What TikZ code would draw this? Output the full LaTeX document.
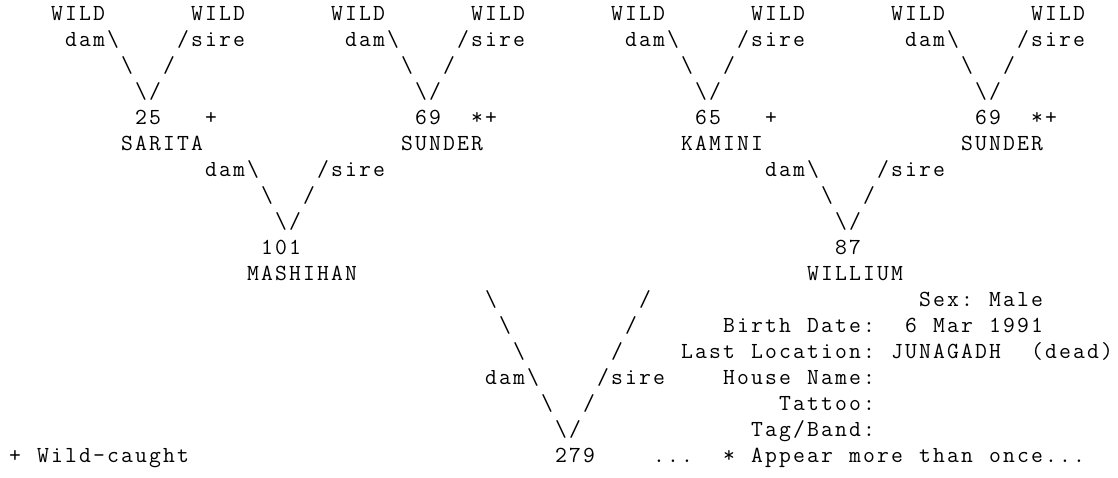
\documentclass[tikz,border=0pt]{standalone}
\usepackage{tikz}

% one character per fixed-width cell, so every column sits on the grid
\newlength\cellw
\setlength\cellw{7pt}
\newcommand\gridend{GRIDEND}
\def\gridloop#1{\ifx#1\gridend\else\makebox[\cellw]{#1}\expandafter\gridloop\fi}
\newcommand\grid[1]{\gridloop#1\gridend}
\newcommand\gridx[1]{\expandafter\grid\expandafter{#1}}
\newcommand\bsl{\textbackslash}

\begin{document}
\begin{tikzpicture}[
    x=7pt, y=-13pt,
    txt/.style={anchor=base west,inner sep=0pt,outer sep=0pt,
        font=\ttfamily\fontsize{11.5pt}{13pt}\selectfont},
    txtr/.style={txt,anchor=base east}
]
\useasboundingbox (-0.5714,0.2308) rectangle (79.2857,18.5769);

% grandparents: wild parents over each one
\foreach \k/\num/\flag/\nm in {9/25/+/SARITA,29/69/*+/SUNDER,49/65/+/KAMINI,69/69/*+/SUNDER}{
    \node[txt] (wdam\k) at (\k-6,1) {\grid{WILD}};
    \node[txt] (wsire\k) at (\k+4,1) {\grid{WILD}};
    \node[txt] (dam\k) at (\k-5,2) {\grid{dam}};
    \node[txt] (sire\k) at (\k+4,2) {\grid{sire}};
    \foreach \i in {0,1,2}{
        \node[txt] (bs\k\i) at (\k-2+\i,2+\i) {\grid{\bsl}};
        \node[txt] (fs\k\i) at (\k+3-\i,2+\i) {\grid{/}};
    }
    \node[txt] (id\k) at (\k,5) {\gridx{\num}};
    \node[txtr] (flag\k) at (\k+6,5) {\gridx{\flag}};
    \node[txt] (name\k) at (\k-1,6) {\gridx{\nm}};
}

% parents
\foreach \K/\num/\nm in {19/101/MASHIHAN,59/87/WILLIUM}{
    \node[txt] (dam\K) at (\K-5,7) {\grid{dam}};
    \node[txt] (sire\K) at (\K+4,7) {\grid{sire}};
    \foreach \i in {0,1,2}{
        \node[txt] (bs\K\i) at (\K-2+\i,7+\i) {\grid{\bsl}};
        \node[txt] (fs\K\i) at (\K+3-\i,7+\i) {\grid{/}};
    }
    \node[txtr] (id\K) at (\K+2,10) {\gridx{\num}};
    \node[txt] (name\K) at (\K-2,11) {\gridx{\nm}};
}

% focal animal
\foreach \i in {0,...,5}{
    \node[txt] (rbs\i) at (34+\i,12+\i) {\grid{\bsl}};
    \node[txt] (rfs\i) at (45-\i,12+\i) {\grid{/}};
}
\node[txt] (rdam) at (34,15) {\grid{dam}};
\node[txt] (rsire) at (43,15) {\grid{sire}};
\node[txt] (rid) at (39,18) {\grid{279}};
\node[txt] (more) at (46,18) {\grid{...}};

% details
\node[txt] (sex) at (65,12) {\grid{Sex:~Male}};
\node[txt] (birth) at (51,13) {\grid{Birth~Date:~~6~Mar~1991}};
\node[txt] (loc) at (48,14) {\grid{Last~Location:~JUNAGADH~~(dead)}};
\node[txt] (house) at (51,15) {\grid{House~Name:}};
\node[txt] (tattoo) at (55,16) {\grid{Tattoo:}};
\node[txt] (tag) at (53,17) {\grid{Tag/Band:}};

% key
\node[txt] (wild) at (0,18) {\grid{+~Wild-caught}};
\node[txt] (once) at (51,18) {\grid{*~Appear~more~than~once...}};
\end{tikzpicture}
\end{document}
